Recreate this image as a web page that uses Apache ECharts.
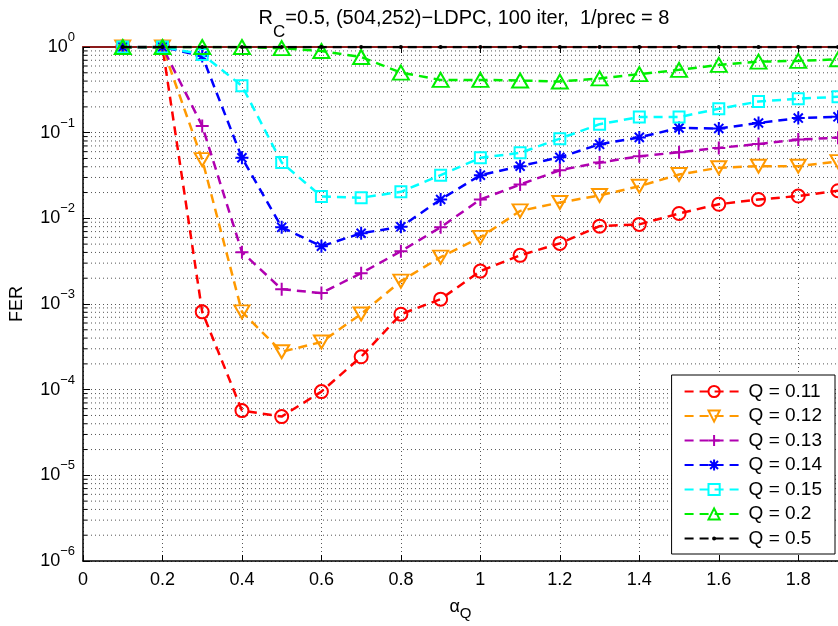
<!DOCTYPE html>
<html>
<head>
<meta charset="utf-8">
<script src="https://cdn.jsdelivr.net/npm/echarts@6/dist/echarts.min.js"></script>
<style>html,body{margin:0;padding:0;background:#fff}#c{width:838px;height:626px}</style>
</head>
<body>
<div id="c"></div>
<script>
// ---- data ----
const alphaQ = [0.1,0.2,0.3,0.4,0.5,0.6,0.7,0.8,0.9,1.0,1.1,1.2,1.3,1.4,1.5,1.6,1.7,1.8,1.9];
const fer_q011 = [1,1,8.1e-4,5.7e-5,4.85e-5,9.5e-5,2.42e-4,7.6e-4,1.14e-3,2.42e-3,3.7e-3,5.1e-3,8.1e-3,8.5e-3,1.14e-2,1.46e-2,1.66e-2,1.82e-2,2.1e-2];
const fer_q012 = [1,1,4.85e-2,8.1e-4,2.77e-4,3.6e-4,7.65e-4,1.85e-3,3.52e-3,6.0e-3,1.22e-2,1.53e-2,1.85e-2,2.37e-2,3.25e-2,3.9e-2,4.06e-2,4.06e-2,4.6e-2];
const fer_q013 = [1,1,0.12,4.03e-3,1.49e-3,1.34e-3,2.29e-3,4.13e-3,7.86e-3,1.66e-2,2.48e-2,3.65e-2,4.48e-2,5.3e-2,5.9e-2,6.64e-2,7.39e-2,8.3e-2,8.75e-2];
const fer_q014 = [1,1,0.786,5.1e-2,7.86e-3,4.72e-3,6.7e-3,7.96e-3,1.66e-2,3.19e-2,4.06e-2,5.16e-2,7.31e-2,8.81e-2,0.1134,0.112,0.1297,0.148,0.153];
const fer_q015 = [1,1,0.82,0.352,4.48e-2,1.8e-2,1.74e-2,2.04e-2,3.19e-2,5.08e-2,5.81e-2,8.51e-2,0.1256,0.152,0.152,0.19,0.231,0.249,0.262];
const fer_q02  = [1,1,1,1,0.97,0.898,0.765,0.503,0.413,0.413,0.406,0.395,0.43,0.482,0.541,0.618,0.675,0.688,0.72];
const fer_q05  = [1,1,1,1,1,1,1,1,1,1,1,1,1,1,1,1,1,1,1];
const seriesNames = ['Q = 0.11','Q = 0.12','Q = 0.13','Q = 0.14','Q = 0.15','Q = 0.2','Q = 0.5'];
const xTicks = {min: 0, max: 1.9, interval: 0.2};
const yTicks = {min: 1e-6, max: 1};

// minor log gridline values
const minorVals = [];
for (let e = -6; e < 0; e++) for (let m = 2; m <= 9; m++) minorVals.push(m * Math.pow(10, e));

const FONT = '"Liberation Sans", Arial, Helvetica, sans-serif';
const chart = echarts.init(document.getElementById('c'), null, {renderer: 'canvas'});

const T = 'rgba(0,0,0,0)';
const DOT = 'path://M0,0L0.01,0M9.99,10L10,10M3.2,5A1.8,1.8,0,1,1,6.8,5A1.8,1.8,0,1,1,3.2,5Z';
const styles = [
  {color:'#ff0000', symbol:'circle', size:13},
  {color:'#ff9900', symbol:'path://M0,0L10,0L5,8.66Z', size:[15,13]},
  {color:'#b000b0', symbol:'path://M0,5L10,5M5,0L5,10', size:13},
  {color:'#0000ff', symbol:'path://M0,5L10,5M5,0L5,10M1.5,1.5L8.5,8.5M1.5,8.5L8.5,1.5', size:13},
  {color:'#00ffff', symbol:'rect', size:11},
  {color:'#00ee00', symbol:'path://M5,0L10,8.66L0,8.66Z', size:[16,14]},
  {color:'#000000', symbol:DOT, size:11, filled:true}
];
const allData = [fer_q011, fer_q012, fer_q013, fer_q014, fer_q015, fer_q02, fer_q05];

const series = allData.map((vals, k) => {
  const s = styles[k];
  return {
    name: seriesNames[k],
    type: 'line',
    data: alphaQ.map((x, i) => [x, vals[i]]),
    symbol: s.symbol,
    symbolSize: s.size,
    showAllSymbol: true,
    lineStyle: {color: s.color, width: 2.5, type: [9, 6]},
    itemStyle: {color: s.filled ? s.color : T, borderColor: s.color, borderWidth: s.filled ? 0 : 2},
    emphasis: {disabled: true},
    z: 3 + k
  };
});

series.unshift({
  type: 'custom',
  silent: true,
  z: 1,
  data: minorVals.map(v => [0, v]),
  encode: {x: 0, y: 1},
  renderItem: function (params, api) {
    const cs = params.coordSys;
    const p = api.coord([0, api.value(1)]);
    return {type: 'group', children: [
      {type: 'line', shape: {x1: cs.x, y1: p[1], x2: cs.x + cs.width, y2: p[1]},
        style: {stroke: '#555', lineWidth: 1, lineDash: [1, 3]}},
      {type: 'line', shape: {x1: cs.x, y1: p[1], x2: cs.x + 4, y2: p[1]},
        style: {stroke: '#000', lineWidth: 1}}
    ]};
  }
});

const option = {
  animation: false,
  backgroundColor: '#fff',
  textStyle: {fontFamily: FONT, color: '#000'},
  title: {
    text: '{a|R}{s|C}{a|=0.5, (504,252)\u2212LDPC, 100 iter,  1/prec = 8}',
    left: 464, top: -5, textAlign: 'center', padding: 0,
    textStyle: {fontWeight: 'normal', rich: {
      a: {fontSize: 20, fontFamily: FONT, color: '#000', lineHeight: 46, fontWeight: 'normal'},
      s: {fontSize: 17, fontFamily: FONT, color: '#000', lineHeight: 14, verticalAlign: 'bottom', fontWeight: 'normal'}
    }}
  },
  grid: {left: 83, right: -8, top: 47, bottom: 63, containLabel: false},
  legend: {
    orient: 'vertical', right: 3, top: 375,
    backgroundColor: '#fff', borderColor: '#000', borderWidth: 1, borderRadius: 0,
    padding: [7, 13, 6, 12], itemGap: 5.5, itemWidth: 59, itemHeight: 14,
    textStyle: {fontSize: 19, fontFamily: FONT, color: '#000'},
    data: seriesNames,
    selectedMode: false
  },
  xAxis: [{
    type: 'value', min: xTicks.min, max: xTicks.max, interval: xTicks.interval,
    name: '{a|\u03b1}{s|Q}', nameLocation: 'middle', nameGap: 32,
    nameTextStyle: {rich: {
      a: {fontSize: 18, fontFamily: FONT, color: '#000', lineHeight: 28},
      s: {fontSize: 15, fontFamily: FONT, color: '#000', lineHeight: 12, verticalAlign: 'bottom'}
    }},
    axisLine: {show: true, onZero: false, lineStyle: {color: '#000', width: 1.5}},
    axisTick: {show: true, inside: true, length: 6, lineStyle: {color: '#000'}},
    axisLabel: {fontSize: 18, color: '#000', fontFamily: FONT, margin: 10, showMaxLabel: false,
      formatter: v => String(Math.round(v * 10) / 10)},
    splitLine: {show: true, lineStyle: {color: '#555', width: 1, type: [1, 3]}}
  }, {
    type: 'value', position: 'top', min: xTicks.min, max: xTicks.max, interval: xTicks.interval,
    axisLine: {show: true, lineStyle: {color: '#8b1a1a', width: 2}},
    axisTick: {show: true, inside: true, length: 6, lineStyle: {color: '#000'}},
    axisLabel: {show: false}, splitLine: {show: false}
  }],
  yAxis: {
    type: 'log', logBase: 10, min: yTicks.min, max: yTicks.max, interval: 1,
    name: 'FER', nameLocation: 'middle', nameGap: 57, nameRotate: 90,
    nameTextStyle: {fontSize: 18, fontFamily: FONT, color: '#000'},
    axisLine: {show: true, lineStyle: {color: '#000', width: 1.5}},
    axisTick: {show: true, inside: true, length: 7, lineStyle: {color: '#000'}},
    axisLabel: {
      margin: 8, color: '#000',
      formatter: function (v) {
        const e = Math.round(Math.log10(v));
        return '{b|10}{e|' + (e < 0 ? '\u2212' + (-e) : e) + '}';
      },
      rich: {
        b: {fontSize: 18, fontFamily: FONT, color: '#000', lineHeight: 32},
        e: {fontSize: 13, fontFamily: FONT, color: '#000', lineHeight: 12, verticalAlign: 'top'}
      }
    },
    splitLine: {show: true, lineStyle: {color: '#555', width: 1, type: [1, 3]}}
  },
  series: series
};
chart.setOption(option);
</script>
</body>
</html>
